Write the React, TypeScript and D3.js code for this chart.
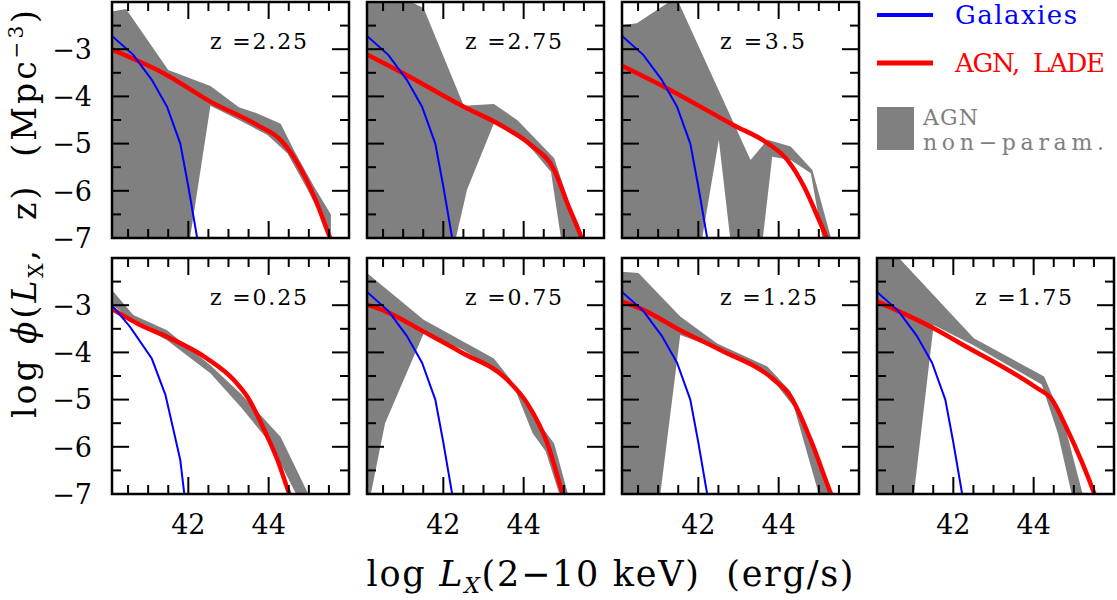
import React from 'react';
import * as d3 from 'd3';

type Pt = [number, number];

// redshift bins, in drawing order
const redshifts = ['0.25', '0.75', '1.25', '1.75', '2.25', '2.75', '3.5'];

// galaxy XLF (blue)
const galaxiesLowZ: Pt[] = [[40.1, -3.0], [40.55, -3.46], [41.09, -4.13], [41.43, -4.9], [41.8, -6.28], [41.9, -7.0], [41.93, -7.2]];
const galaxiesHighZ: Pt[] = [[40.1, -2.72], [40.63, -3.12], [41.09, -3.65], [41.47, -4.22], [41.8, -5.0], [42.0, -5.91], [42.22, -7.0], [42.25, -7.2]];

// AGN LADE model (red)
const lade025: Pt[] = [[40.1, -3.08], [40.8, -3.42], [41.47, -3.67], [42.47, -4.13], [43.13, -4.58], [43.47, -4.94], [43.97, -5.79], [44.22, -6.28], [44.51, -6.99], [44.6, -7.2]];
const lade075: Pt[] = [[40.1, -2.99], [40.59, -3.14], [41.51, -3.56], [42.43, -3.99], [43.59, -4.58], [44.09, -5.08], [44.59, -5.93], [44.97, -6.99], [45.05, -7.2]];
const lade125: Pt[] = [[40.1, -2.92], [40.63, -3.1], [41.55, -3.53], [42.55, -3.95], [43.88, -4.58], [44.3, -4.94], [44.8, -5.86], [45.3, -6.99], [45.4, -7.2]];
const lade175: Pt[] = [[40.1, -2.92], [41.51, -3.49], [42.18, -3.81], [44.09, -4.76], [44.43, -4.97], [44.84, -5.64], [45.51, -6.99], [45.6, -7.2]];
const lade225: Pt[] = [[40.1, -3.01], [41.47, -3.55], [42.55, -4.11], [43.72, -4.61], [44.34, -4.96], [44.72, -5.42], [45.13, -6.12], [45.53, -7.0], [45.6, -7.15]];
const lade275: Pt[] = [[40.1, -3.11], [41.0, -3.51], [42.51, -4.22], [43.43, -4.61], [44.18, -5.03], [44.76, -5.56], [45.09, -6.27], [45.44, -7.0], [45.5, -7.15]];
const lade35: Pt[] = [[40.1, -3.35], [41.18, -3.81], [42.88, -4.61], [43.72, -4.99], [44.22, -5.35], [44.63, -5.91], [44.97, -6.55], [45.2, -7.0], [45.3, -7.2]];

// AGN non-parametric band (grey): upper and lower edges
const bandUp025: Pt[] = [[40.1, -2.68], [40.63, -3.21], [41.47, -3.53], [42.55, -4.27], [43.3, -4.87], [44.3, -5.79], [45.1, -7.2]];
const bandLo025: Pt[] = [[40.1, -2.98], [40.63, -3.35], [41.47, -3.74], [42.55, -4.44], [43.3, -5.15], [44.05, -5.93], [44.8, -7.2]];
const bandUp075: Pt[] = [[40.1, -2.32], [41.51, -3.31], [43.26, -4.13], [43.68, -4.58], [44.26, -5.36], [44.76, -5.93], [45.2, -7.3]];
const bandLo075: Pt[] = [[40.1, -7.4], [40.55, -5.5], [41.51, -3.6], [42.45, -3.93], [43.26, -4.33], [43.76, -4.73], [44.22, -5.71], [44.55, -6.1], [45.0, -7.3]];
const bandUp125: Pt[] = [[40.1, -2.29], [40.51, -2.32], [41.55, -3.24], [42.47, -3.81], [43.72, -4.3], [44.3, -4.83], [44.97, -6.14], [45.3, -7.0], [45.4, -7.3]];
const bandLo125: Pt[] = [[40.1, -10], [40.98, -7.5], [41.55, -3.63], [42.55, -3.95], [43.72, -4.44], [44.38, -5.15], [45.1, -7.3]];
const bandUp175: Pt[] = [[40.1, -1.5], [42.51, -3.7], [44.26, -4.51], [44.76, -5.5], [45.22, -7.0], [45.3, -7.3]];
const bandLo175: Pt[] = [[40.1, -10], [40.95, -7.5], [41.51, -3.42], [42.5, -3.85], [44.2, -4.68], [44.6, -5.71], [45.0, -7.2]];
const bandUp225: Pt[] = [[40.1, -2.2], [40.45, -2.15], [41.5, -3.44], [42.55, -3.78], [43.26, -4.23], [43.72, -4.36], [44.3, -4.58], [44.63, -5.14], [45.13, -5.91], [45.55, -6.5]];
const bandLo225: Pt[] = [[40.1, -10], [41.5, -10], [42.55, -4.2], [43.26, -4.5], [43.97, -4.82], [44.47, -5.21], [44.97, -5.98], [45.55, -6.95]];
const bandUp275: Pt[] = [[40.1, -1.9], [41.09, -1.95], [41.51, -2.13], [42.51, -4.2], [43.26, -4.16], [43.84, -4.5], [44.76, -5.31], [45.5, -7.2]];
const bandLo275: Pt[] = [[40.1, -10], [41.5, -10], [42.59, -5.98], [43.26, -4.57], [44.09, -5.0], [44.68, -5.6], [45.0, -7.4]];
const bandUp35: Pt[] = [[40.1, -2.49], [40.47, -2.45], [41.45, -1.9], [43.3, -5.35], [43.72, -4.92], [44.3, -5.06], [44.84, -5.56], [45.4, -7.3]];
const bandLo35: Pt[] = [[40.1, -10], [41.5, -10], [42.51, -4.92], [43.2, -10], [43.84, -5.28], [44.3, -5.35], [44.8, -5.63], [45.3, -8]];

const galaxySeries = [galaxiesLowZ, galaxiesHighZ, galaxiesHighZ, galaxiesHighZ, galaxiesHighZ, galaxiesHighZ, galaxiesHighZ];
const ladeSeries = [lade025, lade075, lade125, lade175, lade225, lade275, lade35];
const bandUpSeries = [bandUp025, bandUp075, bandUp125, bandUp175, bandUp225, bandUp275, bandUp35];
const bandLoSeries = [bandLo025, bandLo075, bandLo125, bandLo175, bandLo225, bandLo275, bandLo35];

const xTicks = [42, 44];
const yTicks = [-3, -4, -5, -6, -7];

// layout
const W = 237;
const H = 236;
const colX = [112, 367, 622, 877];
const rowY = [2, 258];
const slots = [[1, 0], [1, 1], [1, 2], [1, 3], [0, 0], [0, 1], [0, 2]];

const FONT = '"DejaVu Serif", serif';
const GREY = '#808080';

function Panel(props: { i: number }) {
  const { i } = props;
  const [row, col] = slots[i];
  const left = colX[col];
  const top = rowY[row];

  const x = d3.scaleLinear().domain([40.1, 46]).range([0, W]);
  const y = d3.scaleLinear().domain([-7, -2]).range([H, 0]);
  const line = d3.line<Pt>().x(d => x(d[0])).y(d => y(d[1]));
  const smooth = d3.line<Pt>().x(d => x(d[0])).y(d => y(d[1])).curve(d3.curveMonotoneX);

  const band = line(bandUpSeries[i].concat(bandLoSeries[i].slice().reverse())) + 'Z';

  const xMinor = d3.range(40.5, 46, 0.5).filter(v => xTicks.indexOf(v) < 0);
  const yMajor = d3.range(-6, -2, 1);
  const yMinor = d3.range(-6.5, -2, 1);
  const big = 17;
  const small = 9;
  const clipId = 'clip' + i;
  const zLabel = redshifts[i];

  const tick = (x1: number, y1: number, x2: number, y2: number, k: string) => (
    <line key={k} x1={x1} y1={y1} x2={x2} y2={y2} stroke="#000" strokeWidth={2} />
  );

  return (
    <g transform={'translate(' + left + ',' + top + ')'}>
      <defs>
        <clipPath id={clipId}>
          <rect x={0} y={0} width={W} height={H} />
        </clipPath>
      </defs>
      <g clipPath={'url(#' + clipId + ')'}>
        <path d={band} fill={GREY} />
        <path d={smooth(ladeSeries[i]) || ''} fill="none" stroke="#ff0000" strokeWidth={4.5} />
        <path d={line(galaxySeries[i]) || ''} fill="none" stroke="#0000ff" strokeWidth={2} />
      </g>
      {xTicks.map(v => tick(x(v), H, x(v), H - big, 'xb' + v))}
      {xTicks.map(v => tick(x(v), 0, x(v), big, 'xt' + v))}
      {xMinor.map(v => tick(x(v), H, x(v), H - small, 'xbm' + v))}
      {xMinor.map(v => tick(x(v), 0, x(v), small, 'xtm' + v))}
      {yMajor.map(v => tick(0, y(v), big, y(v), 'yl' + v))}
      {yMajor.map(v => tick(W, y(v), W - big, y(v), 'yr' + v))}
      {yMinor.map(v => tick(0, y(v), small, y(v), 'ylm' + v))}
      {yMinor.map(v => tick(W, y(v), W - small, y(v), 'yrm' + v))}
      <rect x={0} y={0} width={W} height={H} fill="none" stroke="#000" strokeWidth={2.5} />
      <text x={98} y={47} fontFamily={FONT} fontSize={22}
        textLength={zLabel.length > 3 ? 97 : 85} lengthAdjust="spacing" style={{ whiteSpace: 'pre' }}>
        {'z =' + zLabel}
      </text>
      {col === 0 && yTicks.map(v => (
        <text key={'yl' + v} x={-20} y={y(v)} dy="0.36em" textAnchor="end"
          fontFamily={FONT} fontSize={27}>{'\u2212' + Math.abs(v)}</text>
      ))}
      {row === 1 && xTicks.map(v => (
        <text key={'xl' + v} x={x(v)} y={H + 40} textAnchor="middle"
          fontFamily={FONT} fontSize={27}>{v}</text>
      ))}
    </g>
  );
}

function Legend() {
  return (
    <g fontFamily={FONT}>
      <line x1={877} x2={933} y1={15} y2={15} stroke="#0000ff" strokeWidth={4} />
      <text x={955} y={24} fontSize={26} fill="#0000ff" textLength={122} lengthAdjust="spacing">Galaxies</text>
      <line x1={877} x2={933} y1={63} y2={63} stroke="#ff0000" strokeWidth={5} />
      <text x={955} y={72} fontSize={26} fill="#ff0000" textLength={150} lengthAdjust="spacing"
        style={{ whiteSpace: 'pre' }}>{'AGN,  LADE'}</text>
      <rect x={877} y={107} width={37} height={43} fill={GREY} />
      <text x={923} y={125} fontSize={22} fill={GREY} textLength={55} lengthAdjust="spacing">AGN</text>
      <text x={923} y={150} fontSize={22} fill={GREY} textLength={181} lengthAdjust="spacing">{'non\u2212param.'}</text>
    </g>
  );
}

export default function App() {
  return (
    <div style={{ position: 'absolute', left: 0, top: 0 }}>
      <svg width={1117} height={600} style={{ display: 'block', background: '#fff' }}>
        {redshifts.map((z, i) => <Panel key={z} i={i} />)}
        <Legend />
        <text x={610} y={586} textAnchor="middle" fontFamily={FONT} fontSize={35}
          textLength={487} lengthAdjust="spacing" style={{ whiteSpace: 'pre' }}>
          {'log '}
          <tspan fontStyle="italic">L</tspan>
          <tspan fontStyle="italic" fontSize={22} dy={7}>X</tspan>
          <tspan dy={-7}>{'(2\u221210 keV)  (erg/s)'}</tspan>
        </text>
        <text transform="translate(36,214) rotate(-90)" textAnchor="middle" fontFamily={FONT}
          fontSize={33} textLength={408} lengthAdjust="spacing" style={{ whiteSpace: 'pre' }}>
          {'log '}
          <tspan fontStyle="italic">{'\u03d5'}</tspan>
          <tspan>(</tspan>
          <tspan fontStyle="italic">L</tspan>
          <tspan fontSize={20} dy={7}>X</tspan>
          <tspan dy={-7}>{',  z)  (Mpc'}</tspan>
          <tspan fontSize={20} dy={-13}>{'\u22123'}</tspan>
          <tspan dy={13}>)</tspan>
        </text>
      </svg>
    </div>
  );
}
